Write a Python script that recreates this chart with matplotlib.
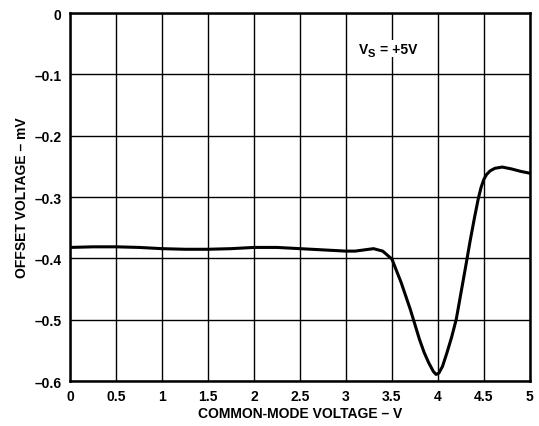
import matplotlib
matplotlib.use("Agg")
import matplotlib.pyplot as plt

# common-mode voltage (V) and offset voltage (mV)
vcm = [0, 0.25, 0.5, 0.75, 1.0, 1.25, 1.5, 1.75, 2.0, 2.25, 2.5, 2.75, 3.0,
       3.1, 3.2, 3.3, 3.4, 3.5, 3.6, 3.7, 3.8, 3.85, 3.9, 3.95, 3.98, 4.01,
       4.05, 4.1, 4.15, 4.2, 4.3, 4.35, 4.4, 4.44, 4.47, 4.5, 4.53, 4.57,
       4.62, 4.7, 4.8, 4.9, 5.0]
vos = [-0.382, -0.381, -0.381, -0.382, -0.384, -0.385, -0.385, -0.384,
       -0.382, -0.382, -0.384, -0.386, -0.388, -0.388, -0.386, -0.384,
       -0.388, -0.401, -0.439, -0.483, -0.532, -0.553, -0.570, -0.584,
       -0.589, -0.587, -0.576, -0.553, -0.528, -0.499, -0.415, -0.372,
       -0.332, -0.302, -0.284, -0.271, -0.263, -0.257, -0.253, -0.251,
       -0.254, -0.258, -0.261]

xticks = [0, 0.5, 1, 1.5, 2, 2.5, 3, 3.5, 4, 4.5, 5]
xlabels = ['0', '0.5', '1', '1.5', '2', '2.5', '3', '3.5', '4', '4.5', '5']
yticks = [0, -0.1, -0.2, -0.3, -0.4, -0.5, -0.6]
ylabels = ['0', '\u20130.1', '\u20130.2', '\u20130.3', '\u20130.4', '\u20130.5', '\u20130.6']

plt.rcParams['font.family'] = ['Liberation Sans', 'DejaVu Sans']
bold = dict(fontweight='bold', family='Liberation Sans')

fig = plt.figure(figsize=(5.39, 4.27), dpi=100)
ax = fig.add_axes([0.130, 0.105, 0.853, 0.862])

ax.plot(vcm, vos, color='black', linewidth=2.2, solid_capstyle='round',
        solid_joinstyle='round')

ax.set_xlim(0, 5)
ax.set_ylim(-0.6, 0)
ax.set_xticks(xticks)
ax.set_xticklabels(xlabels, fontsize=10, fontweight='bold')
ax.set_yticks(yticks)
ax.set_yticklabels(ylabels, fontsize=10, fontweight='bold')
ax.tick_params(length=0, pad=6)
ax.grid(True, color='black', linewidth=1.0)

for side in ax.spines.values():
    side.set_linewidth(1.8)

ax.set_xlabel('COMMON-MODE VOLTAGE \u2013 V', fontsize=10, fontweight='bold', labelpad=2)
ax.set_ylabel('OFFSET VOLTAGE \u2013 mV', fontsize=10, fontweight='bold', labelpad=4)

# "V_S = +5V" label, built from plain bold pieces
anchor = (3.5, -0.058)
ax.annotate('V', xy=anchor, xytext=(-24, 0), textcoords='offset points',
            ha='left', va='center', fontsize=10, **bold)
ax.annotate('S', xy=anchor, xytext=(-17.2, -3.2), textcoords='offset points',
            ha='left', va='center', fontsize=8, **bold)
ax.annotate('= +5V', xy=anchor, xytext=(-8.5, 0), textcoords='offset points',
            ha='left', va='center', fontsize=10,
            bbox=dict(facecolor='white', edgecolor='none', pad=1.2), **bold)

fig.savefig('out.png', dpi=100)
